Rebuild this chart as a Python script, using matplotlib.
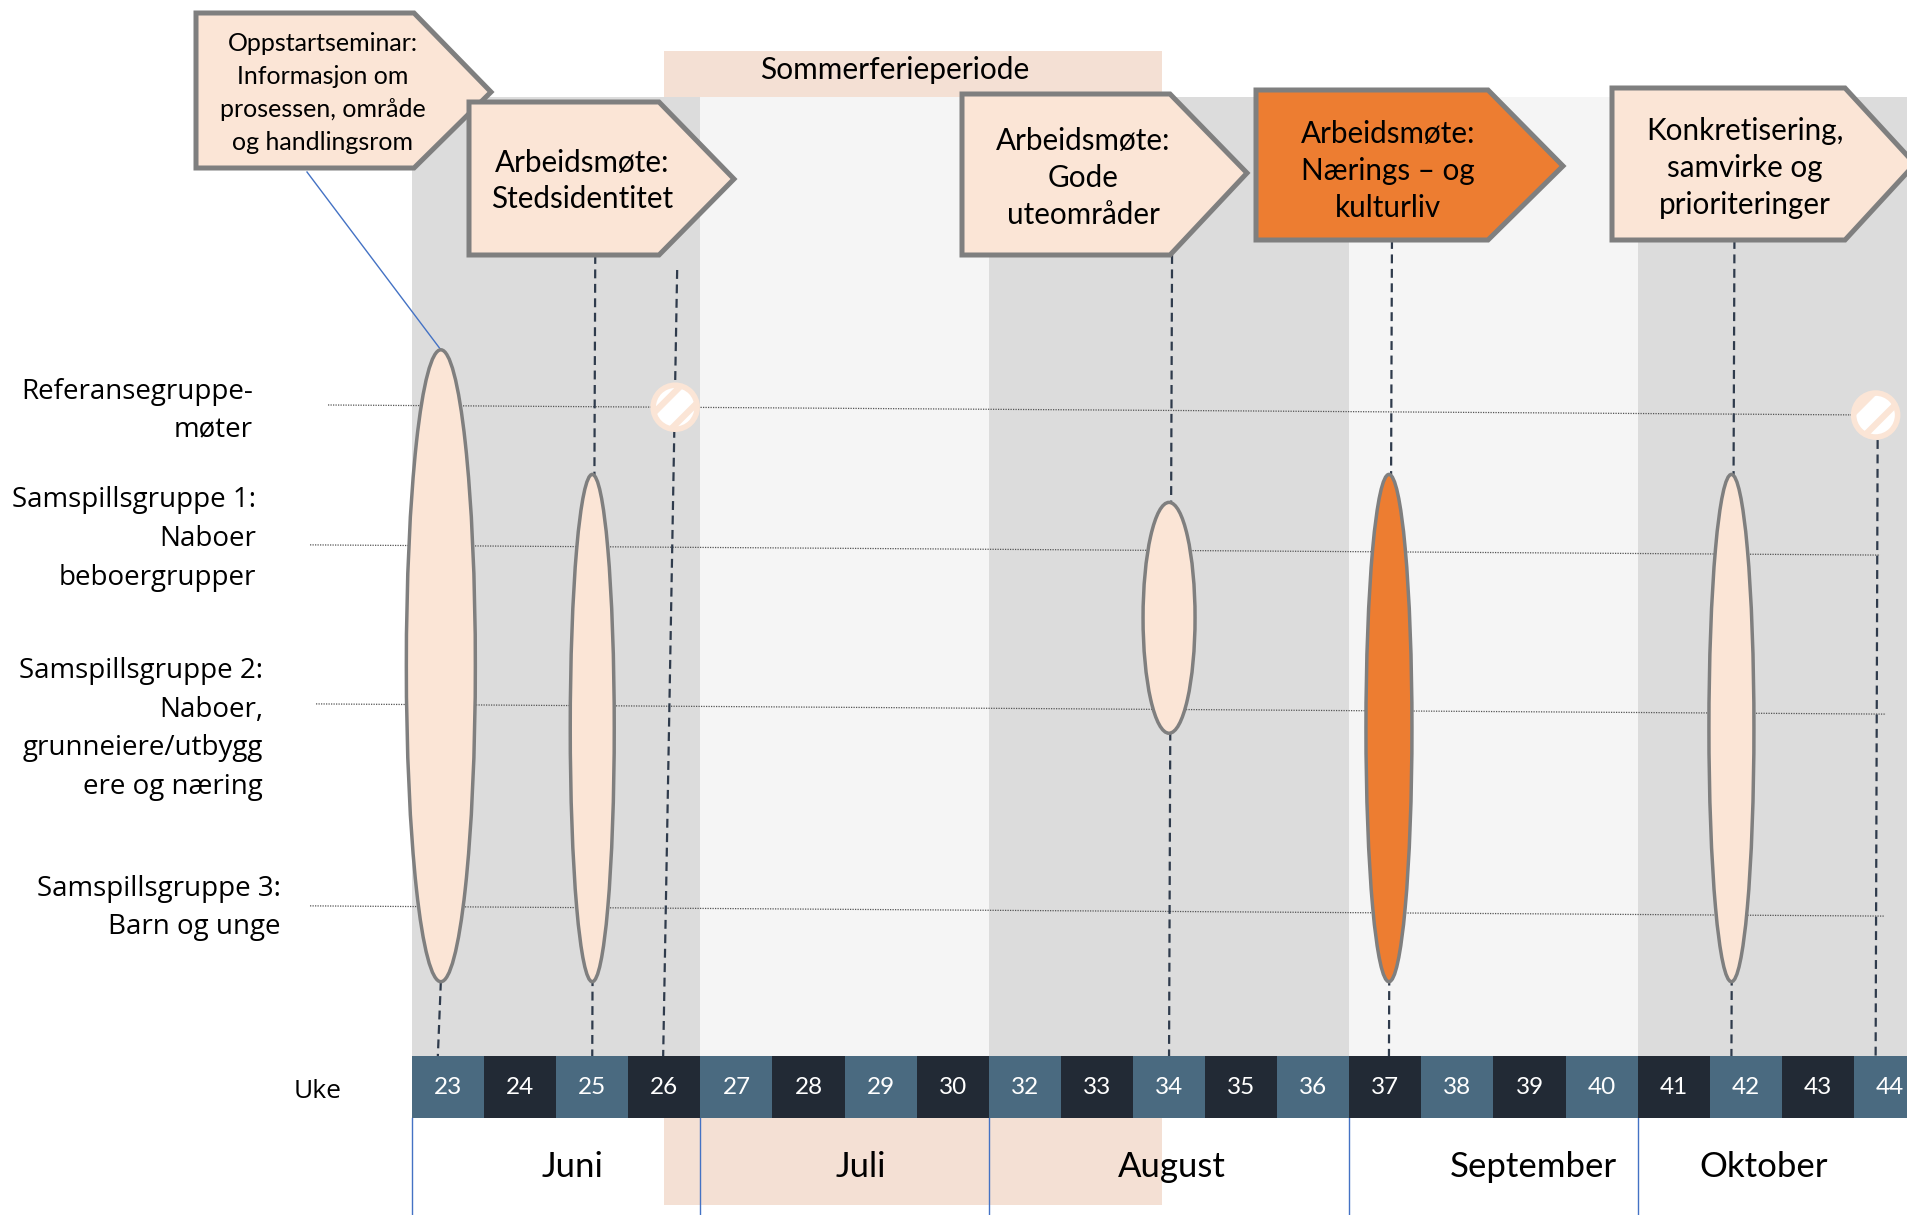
import numpy as np
import matplotlib.pyplot as plt
from matplotlib.patches import Rectangle, Polygon, Ellipse, Circle

plt.rcParams["hatch.linewidth"] = 4.5

# ---- data ----
# weeks on the time strip (week 31 is not on it)
weeks = [23, 24, 25, 26, 27, 28, 29, 30, 32, 33, 34, 35, 36, 37, 38, 39, 40, 41, 42, 43, 44]
months = ["Juni", "Juli", "August", "September", "Oktober"]
month_first_week = [23, 27, 32, 37, 41]
month_label_week = [24.72, 28.73, 34.04, 39.05, 42.25]
summer_weeks = (26.0, 33.9)

rows = ["Referansegruppe-\nmøter",
        "Samspillsgruppe 1:\nNaboer\nbeboergrupper",
        "Samspillsgruppe 2:\nNaboer,\ngrunneiere/utbygg\nere og næring",
        "Samspillsgruppe 3:\nBarn og unge"]

events = ["Oppstartseminar:\nInformasjon om\nprosessen, område\nog handlingsrom",
          "Arbeidsmøte:\nStedsidentitet",
          "Arbeidsmøte:\nGode\nuteområder",
          "Arbeidsmøte:\nNærings – og\nkulturliv",
          "Konkretisering,\nsamvirke og\nprioriteringer"]
event_weeks = [22.9, 25.0, 34.0, 37.05, 41.8]
# first and last row covered by each meeting (row units, 0 = referansegruppe)
event_rows = [(-0.43, 3.35), (0.46, 3.35), (0.66, 2.12), (0.46, 3.35), (0.46, 3.35)]
event_highlight = [False, False, False, True, False]

ref_meeting_weeks = [26.15, 43.8]

# ---- style / layout ----
peach = "#fbe5d6"
orange = "#ed7d31"
border = "#7f7f7f"
navy = "#2f3b4c"
gray_band = "#dcdcdc"
light_band = "#f5f5f5"
summer = "#f4e0d4"
strip_cols = ["#4a6a80", "#222a35"]

x0, cw = 412, 72.1
strip_top, strip_bot = 1056, 1118
band_top = 97
row_y = [410, 550, 709, 911]
label_y = [411, 539, 729, 908]
idx = np.arange(len(weeks))


def wx(w):
    # centre of a (fractional) week on the strip
    p = np.interp(w, weeks, idx) + min(w - weeks[0], 0) + max(w - weeks[-1], 0)
    return x0 + (p + 0.5) * cw


def ry(r):
    if r < 0:
        return row_y[0] + r * (row_y[1] - row_y[0])
    if r > 3:
        return row_y[3] + (r - 3) * (row_y[3] - row_y[2])
    return np.interp(r, range(4), row_y)


fig = plt.figure(figsize=(19.08, 12.15), dpi=100)
ax = fig.add_axes([0, 0, 1, 1])
ax.set_xlim(0, 1908)
ax.set_ylim(1215, 0)
ax.axis("off")

# month background bands
for i, m in enumerate(months):
    left = wx(month_first_week[i]) - cw / 2
    right = wx(month_first_week[i + 1]) - cw / 2 if i + 1 < len(months) else 1950
    ax.add_patch(Rectangle((left, band_top), right - left, strip_top - band_top,
                           fc=gray_band if i % 2 == 0 else light_band, ec="none", zorder=0))
    ax.plot([left, left], [strip_bot, 1215], color="#4472c4", lw=1, zorder=1)
    ax.text(wx(month_label_week[i]), 1167, m, ha="center", va="center",
            fontsize=25, family="Lato", zorder=3)

# summer holiday period
sl, sr = wx(summer_weeks[0]), wx(summer_weeks[1])
ax.add_patch(Rectangle((sl, 51), sr - sl, band_top - 51, fc=summer, ec="none", zorder=0))
ax.add_patch(Rectangle((sl, strip_bot), sr - sl, 1205 - strip_bot, fc=summer, ec="none", zorder=0))
ax.text(sl + 230, 70, "Sommerferieperiode", ha="center", va="center",
        fontsize=21.5, family="Lato")

# week strip
for i, w in enumerate(weeks):
    ax.add_patch(Rectangle((x0 + i * cw, strip_top), cw, strip_bot - strip_top,
                           fc=strip_cols[i % 2], ec="none", zorder=2))
    ax.text(wx(w), (strip_top + strip_bot) / 2, str(w), color="white", ha="center",
            va="center", fontsize=17.5, family="Lato", zorder=3)
ax.text(318, 1091, "Uke", ha="center", va="center", fontsize=19, family="Open Sans")

# row labels and row lines
label_right = [253, 256, 263, 281]
line_left = [328, 310, 316, 310]
line_right = [1862, 1880, 1886, 1884]
for r, lab in enumerate(rows):
    ax.text(label_right[r], label_y[r], lab, ha="right", va="center", fontsize=20,
            family="Open Sans", linespacing=1.5)
    xs = np.array([line_left[r], line_right[r]])
    ax.plot(xs, row_y[r] + (xs - 1100) * 0.0065, color="#555555", lw=0.9,
            ls=(0, (1, 1)), zorder=1)

# meeting boxes: left, top, bottom, end of flat top, tip x, tip y
boxes = [(196, 13, 168, 414, 491, 92),
         (469, 102, 255, 659, 734, 179),
         (962, 94, 255, 1170, 1247, 173),
         (1256, 90, 240, 1488, 1563, 166),
         (1612, 88, 240, 1845, 1915, 164)]
text_pos = [(323, 93), (582, 181), (1083, 178), (1388, 171), (1745, 168)]
ell_w = [69, 44, 52, 46, 45]

for i, ev in enumerate(events):
    fc = orange if event_highlight[i] else peach
    l, t, b, fe, tx, ty = boxes[i]
    ax.add_patch(Polygon([(l, t), (fe, t), (tx, ty), (fe, b), (l, b)], closed=True,
                         fc=fc, ec=border, lw=3.6, joinstyle="miter", zorder=6))
    ax.text(text_pos[i][0], text_pos[i][1], ev, ha="center", va="center",
            fontsize=18 if i == 0 else 21.3, family="Lato",
            linespacing=1.52 if i == 0 else 1.38, zorder=7)

    cx = wx(event_weeks[i])
    top, bot = ry(event_rows[i][0]), ry(event_rows[i][1])
    ax.add_patch(Ellipse((cx, (top + bot) / 2), ell_w[i], bot - top, fc=fc, ec=border,
                         lw=2.5, zorder=4))
    if i == 0:
        ax.plot([307, cx], [b + 4, top], color="#4472c4", lw=1, zorder=3)
        ax.plot([cx, cx - 3], [bot, strip_top], color=navy, lw=1.6,
                ls=(0, (4, 2.5)), zorder=3)
    else:
        ax.plot([cx + 3, cx], [b, strip_top], color=navy, lw=1.6,
                ls=(0, (4, 2.5)), zorder=3)

# reference group meetings
ref_line_top = [270, None]
for k, w in enumerate(ref_meeting_weeks):
    cx = wx(w)
    cy = row_y[0] + (cx - 1100) * 0.0065
    ax.add_patch(Circle((cx, cy), 22, fc="white", ec=peach, lw=4, hatch="/", zorder=5))
    top = ref_line_top[k] if ref_line_top[k] else cy + 25
    ax.plot([cx + 2, cx - 12 if k == 0 else cx], [top, strip_top], color=navy, lw=1.6,
            ls=(0, (4, 2.5)), zorder=3)

fig.savefig("out.png", dpi=100)
